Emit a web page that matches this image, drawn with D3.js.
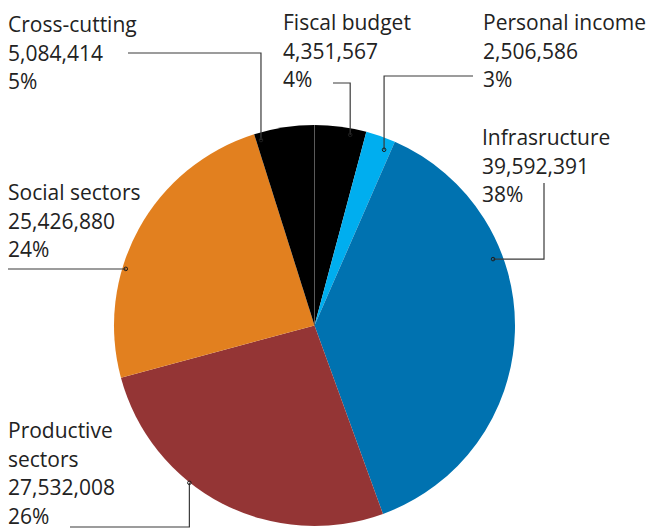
<!DOCTYPE html>
<html>
<head>
<meta charset="utf-8">
<script src="https://cdn.jsdelivr.net/npm/d3@7"></script>
<style>
  html, body { margin: 0; padding: 0; background: #fff; }
  svg { display: block; }
  text { font-family: "Open Sans", "Noto Sans", sans-serif; fill: #222; }
</style>
</head>
<body>
<svg id="chart" width="649" height="529"></svg>
<script>
// Allocation by sector (clockwise from 12 o'clock)
const categories = ["Fiscal budget", "Personal income", "Infrasructure", "Productive sectors", "Social sectors", "Cross-cutting"];
const values = [4351567, 2506586, 39592391, 27532008, 25426880, 5084414];
const percentLabels = ["4%", "3%", "38%", "26%", "24%", "5%"];
const colors = ["#000000", "#00aeef", "#0072b0", "#943535", "#e2801f", "#000000"];

const W = 649, H = 529;
const cx = 314.5, cy = 325.5, R = 200.5;

// Label placement: text block origin, name lines, leader start and routing,
// and where the leader's dot lands inside the slice (polar, degrees clockwise from top)
const labelLayout = [
  { x: 283, y: 30, lines: ["Fiscal budget"], start: [333, 83], route: "hv", dot: [10.6, 194] },
  { x: 483, y: 30, lines: ["Personal income"], start: [473, 76], route: "hv", dot: [21.6, 189] },
  { x: 482, y: 145, lines: ["Infrasructure"], start: [544, 183], route: "vh", dot: [69.6, 190.5] },
  { x: 8, y: 438, lines: ["Productive", "sectors"], start: [70, 527], route: "hv", dot: [218.5, 201] },
  { x: 8, y: 200, lines: ["Social sectors"], start: [8, 269], route: "hv", dot: [286.7, 197] },
  { x: 8, y: 32, lines: ["Cross-cutting"], start: [128, 53], route: "hv", dot: [343.9, 193] }
];
const lineGap = 28.6;
const fmt = d3.format(",");

const svg = d3.select("#chart");
const g = svg.append("g").attr("transform", `translate(${cx},${cy})`);

const pie = d3.pie().sort(null).value(d => d)(values);
const arc = d3.arc().innerRadius(0).outerRadius(R);

g.selectAll("path.slice")
  .data(pie)
  .join("path")
  .attr("class", "slice")
  .attr("d", arc)
  .attr("fill", (d, i) => colors[i]);

// Thin divider where two neighbouring slices share a colour
pie.forEach((d, i) => {
  const prev = (i - 1 + pie.length) % pie.length;
  if (colors[prev] === colors[i]) {
    const a = d.startAngle;
    g.append("line")
      .attr("x1", 0).attr("y1", 0)
      .attr("x2", R * Math.sin(a)).attr("y2", -R * Math.cos(a))
      .attr("stroke", "#5a5a5a")
      .attr("stroke-width", 1);
  }
});

// Labels and leader lines
const labels = svg.append("g");
labelLayout.forEach((L, i) => {
  const texts = [...L.lines, fmt(values[i]), percentLabels[i]];
  const t = labels.append("text")
    .attr("x", L.x).attr("y", L.y)
    .attr("font-size", 21);
  texts.forEach((s, k) => {
    t.append("tspan").attr("x", L.x).attr("y", L.y + k * lineGap).text(s);
  });

  const ang = L.dot[0] * Math.PI / 180;
  const dx = cx + L.dot[1] * Math.sin(ang);
  const dy = cy - L.dot[1] * Math.cos(ang);
  const [sx, sy] = L.start;
  const pts = L.route === "hv"
    ? [[sx, sy], [dx, sy], [dx, dy]]
    : [[sx, sy], [sx, dy], [dx, dy]];
  labels.append("path")
    .attr("d", d3.line()(pts))
    .attr("fill", "none")
    .attr("stroke", "#3a3a3a")
    .attr("stroke-width", 1.2);
  labels.append("circle")
    .attr("cx", dx).attr("cy", dy).attr("r", 1.8)
    .attr("fill", "none")
    .attr("stroke", "#1e1e1e")
    .attr("stroke-width", 1);
});
</script>
</body>
</html>
